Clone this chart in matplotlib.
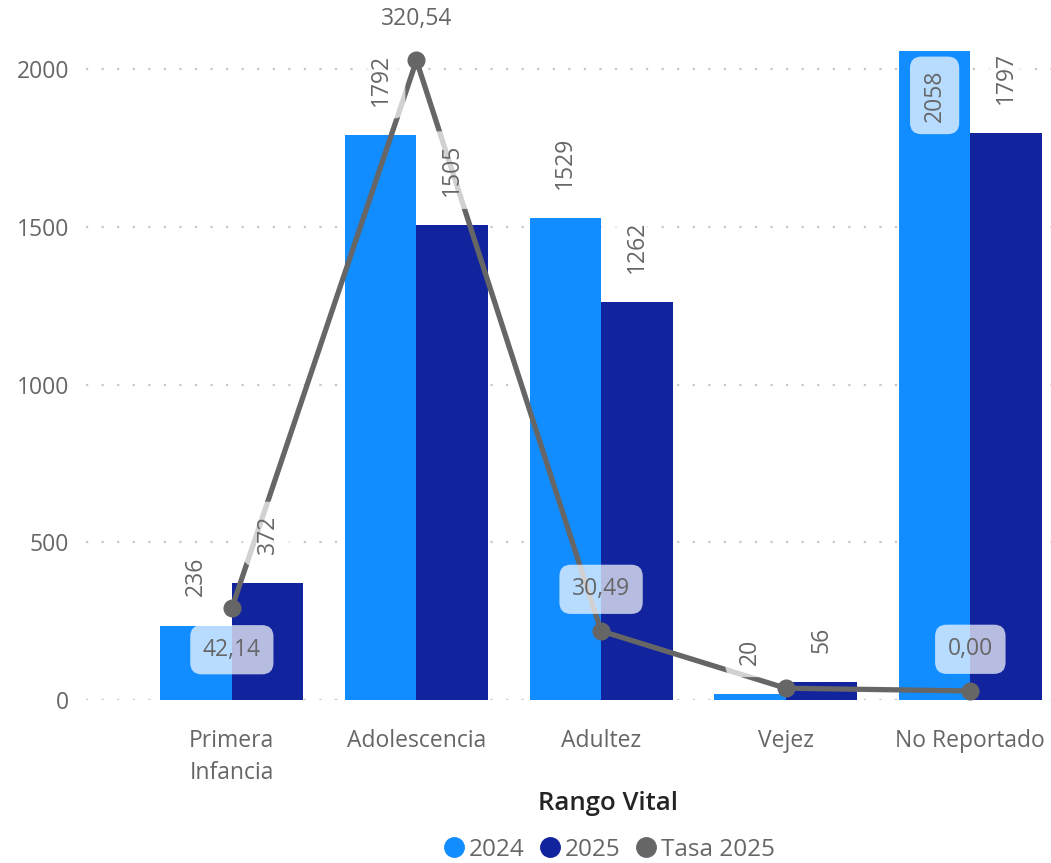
import matplotlib
matplotlib.use("Agg")
from matplotlib import pyplot as plt
from matplotlib.lines import Line2D

categories = ["Primera\nInfancia", "Adolescencia", "Adultez", "Vejez", "No Reportado"]
vals_2024 = [236, 1792, 1529, 20, 2058]
vals_2025 = [372, 1505, 1262, 56, 1797]
tasa_2025 = [42.14, 320.54, 30.49, 1.4, 0.00]
tasa_labels = ["42,14", "320,54", "30,49", None, "0,00"]
# where the tasa label sits: 1 above the point, -1 below
tasa_side = [-1, 1, 1, 1, 1]

c2024 = "#118DFF"
c2025 = "#12239E"
cline = "#666666"
txt = "#666666"

plt.rcParams["font.family"] = ["Open Sans", "DejaVu Sans"]

fig = plt.figure(figsize=(10.51, 8.63), dpi=100)
ax = fig.add_axes([86/1051, 1 - 700/863, 1 - 86/1051, (700 - 50.5)/863])
ax2 = ax.twinx()

x = list(range(len(categories)))
w = 0.387
ax.bar([i - w/2 for i in x], vals_2024, w, color=c2024, zorder=2)
ax.bar([i + w/2 for i in x], vals_2025, w, color=c2025, zorder=2)

ax.set_xlim(-0.79, 4.437)
ax.set_ylim(0, 2060)
ax.set_yticks([0, 500, 1000, 1500, 2000])
ax.grid(axis="y", color="#C8C8C8", linestyle=(0, (1, 6)), linewidth=1.6)
ax.set_axisbelow(True)
for s in ax.spines.values():
    s.set_visible(False)
for s in ax2.spines.values():
    s.set_visible(False)
ax.tick_params(axis="y", length=0, labelsize=16.5, labelcolor=txt, pad=12)
ax.set_xticks(x)
ax.set_xticklabels(categories, linespacing=1.45)
ax.tick_params(axis="x", length=0, labelsize=16.5, labelcolor=txt, pad=21)

# secondary axis for the rate line
ax2.set_ylim(-4.6, 325.6)
ax2.set_yticks([])
ax2.plot(x, tasa_2025, color=cline, linewidth=3.8, marker="o", markersize=12,
         zorder=2, solid_capstyle="round")

box = dict(boxstyle="round,pad=0.55,rounding_size=0.5", facecolor="white",
           edgecolor="none", alpha=0.7)

# bar labels (drawn on ax2 so they sit over the line)
for vals, off in [(vals_2024, -w/2), (vals_2025, w/2)]:
    for i, v in enumerate(vals):
        if v > 2000:
            ax2.annotate(str(v), (i + off, v), xycoords=ax.transData,
                         xytext=(0, -13), textcoords="offset points",
                         rotation=90, ha="center", va="top", fontsize=16.5,
                         color=txt, bbox=box, zorder=3)
        else:
            ax2.annotate(str(v), (i + off, v), xycoords=ax.transData,
                         xytext=(0, 21), textcoords="offset points",
                         rotation=90, ha="center", va="bottom", fontsize=16.5,
                         color=txt, bbox=box, zorder=3)

for i, (v, lab, side) in enumerate(zip(tasa_2025, tasa_labels, tasa_side)):
    if lab is None:
        continue
    ax2.annotate(lab, (i, v), xytext=(0, 30 * side), textcoords="offset points",
                 ha="center", va="center", fontsize=16.5, color=txt,
                 bbox=box, zorder=4)

fig.text(608/1051, 1 - 803/863, "Rango Vital", ha="center", va="center",
         fontsize=18.5, color="#252423", fontweight="semibold")

handles = [Line2D([], [], linestyle="none", marker="o", markersize=14, color=c2024),
           Line2D([], [], linestyle="none", marker="o", markersize=14, color=c2025),
           Line2D([], [], linestyle="none", marker="o", markersize=14, color=cline)]
leg = fig.legend(handles, ["2024", "2025", "Tasa 2025"], loc="center",
                 bbox_to_anchor=(609/1051, 1 - 850/863), ncol=3, frameon=False,
                 fontsize=17.5, handletextpad=0.15, columnspacing=0.6,
                 handlelength=0.9)
for t in leg.get_texts():
    t.set_color(txt)

fig.savefig("out.png", dpi=100)
